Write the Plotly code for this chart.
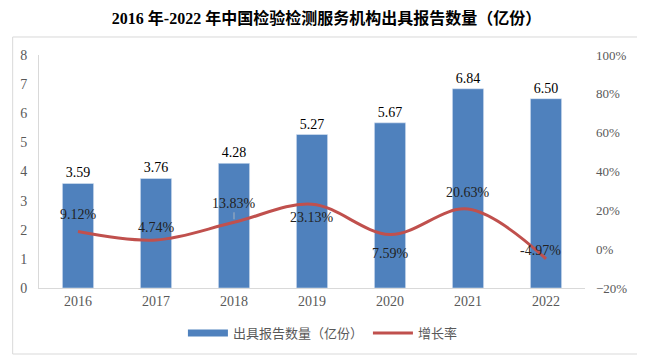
import plotly.graph_objects as go

years = ["2016", "2017", "2018", "2019", "2020", "2021", "2022"]
reports = [3.59, 3.76, 4.28, 5.27, 5.67, 6.84, 6.50]
growth = [9.12, 4.74, 13.83, 23.13, 7.59, 20.63, -4.97]

bar_name = "出具报告数量（亿份）"
line_name = "增长率"
title = "2016 年-2022 年中国检验检测服务机构出具报告数量（亿份）"

SERIF = "Liberation Serif, Times New Roman, Noto Sans CJK SC, serif"
BLUE = "#4F81BD"
RED = "#C0504D"
GRAY = "#595959"

fig = go.Figure()
fig.add_trace(go.Bar(
    x=years, y=reports, name=bar_name, marker_color=BLUE, width=0.4,
    text=[f"{v:.2f}" for v in reports], textposition="outside",
    textfont=dict(family=SERIF, size=14, color="#000000"), cliponaxis=False,
    showlegend=False,
))
# legend entry for bars drawn as a wide bar-like swatch
fig.add_trace(go.Scatter(
    x=[None], y=[None], name=bar_name, mode="lines",
    line=dict(color=BLUE, width=7), showlegend=True,
))
fig.add_trace(go.Scatter(
    x=years, y=growth, name=line_name, yaxis="y2", mode="lines",
    line=dict(color=RED, width=3, shape="spline", smoothing=1.0),
))

# label offsets (pixels) for growth labels
offsets = [(0, 17), (0, 12), (0, 19), (0, -13), (0, -19), (0, 17), (-6, 8)]
for i, g in enumerate(growth):
    dx, dy = offsets[i]
    if i == 2:
        fig.add_annotation(x=i, y=g, xref="x", yref="y2", text=f"{g:.2f}%",
                           showarrow=True, ax=0, ay=-dy, arrowhead=0,
                           arrowwidth=0.8, arrowcolor="#BFBFBF", standoff=3,
                           font=dict(family=SERIF, size=14, color="#222222"))
    else:
        fig.add_annotation(x=i, y=g, xref="x", yref="y2", text=f"{g:.2f}%",
                           showarrow=False, xshift=dx, yshift=dy,
                           font=dict(family=SERIF, size=14, color="#222222"))

# outer frame
fig.add_shape(type="rect", xref="paper", yref="paper",
              x0=-0.0482, x1=1.1, y0=-0.2833, y1=1.0773,
              line=dict(color="#D9D9D9", width=1), fillcolor="rgba(0,0,0,0)", layer="below")

fig.update_layout(
    width=637, height=353,
    margin=dict(l=27, r=60, t=47, b=73),
    paper_bgcolor="white", plot_bgcolor="white",
    title=dict(text=title, x=0.5, xanchor="center", y=0.9717, yanchor="middle",
               font=dict(family=SERIF, size=16, color="#000000", weight="bold")),
    showlegend=True,
    legend=dict(orientation="h", x=0.52, xanchor="center", y=-0.193, yanchor="middle",
                font=dict(family=SERIF, size=13, color=GRAY), itemwidth=40,
                traceorder="normal"),
    xaxis=dict(type="category", range=[-0.5, len(years) - 0.5], showline=True,
               linecolor="#D9D9D9", linewidth=1, ticks="",
               tickfont=dict(family=SERIF, size=14, color=GRAY), showgrid=False),
    yaxis=dict(range=[0, 8], dtick=1, showline=True, linecolor="#D9D9D9",
               showgrid=False, zeroline=False, ticks="", ticklabelstandoff=8,
               tickfont=dict(family=SERIF, size=14, color=GRAY)),
    yaxis2=dict(range=[-20, 100], dtick=20, overlaying="y", side="right",
                ticksuffix="%", showgrid=False, zeroline=False, showline=False,
                ticks="", ticklabelstandoff=10,
                tickfont=dict(family=SERIF, size=13, color=GRAY)),
    bargap=0.6,
)

fig.write_html("out.html")
